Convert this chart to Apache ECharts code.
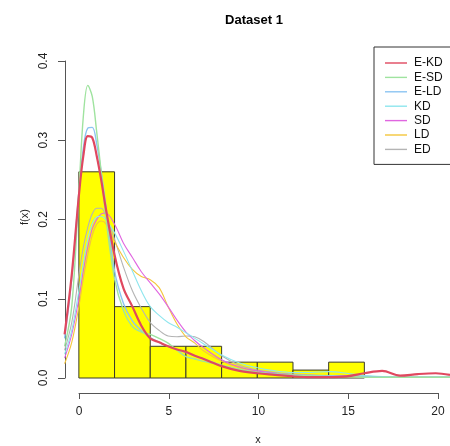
<!DOCTYPE html>
<html>
<head>
<meta charset="utf-8">
<script src="https://cdn.jsdelivr.net/npm/echarts@6/dist/echarts.min.js"></script>
<style>
  html, body { margin: 0; padding: 0; background: #fff; }
  #main { width: 450px; height: 446px; }
</style>
</head>
<body>
<div id="main"></div>
<script>
// histogram: bin edges and densities (n = 50, width 2)
var breaks = [0, 2, 4, 6, 8, 10, 12, 14, 16];
var density = [0.26, 0.09, 0.04, 0.04, 0.02, 0.02, 0.01, 0.02];

var xs = [-0.8, -0.4, 0, 0.25, 0.5, 0.75, 1, 1.25, 1.5, 2, 2.5, 3, 3.5, 4, 4.5, 5, 5.5, 6, 6.5, 7,
  8, 9, 10, 11, 12, 13, 14, 15, 16, 17, 18, 19, 20, 20.8];

var eKD = [0.055, 0.13, 0.23, 0.28, 0.305, 0.303, 0.28, 0.25, 0.215, 0.155, 0.113, 0.09, 0.066, 0.05, 0.045, 0.04, 0.036, 0.033, 0.028, 0.024,
  0.015, 0.009, 0.006, 0.004, 0.002, 0.001, 0.001, 0.002, 0.006, 0.009, 0.003, 0.005, 0.006, 0.004];
var eSD = [0.04, 0.09, 0.235, 0.33, 0.369, 0.355, 0.31, 0.26, 0.205, 0.125, 0.085, 0.065, 0.058, 0.055, 0.05, 0.044, 0.035, 0.027, 0.024, 0.021,
  0.016, 0.011, 0.007, 0.005, 0.004, 0.003, 0.002, 0.002, 0.001, 0.001, 0.001, 0.001, 0.001, 0.001];
var eLD = [0.05, 0.125, 0.235, 0.29, 0.315, 0.316, 0.295, 0.26, 0.22, 0.135, 0.094, 0.072, 0.06, 0.051, 0.045, 0.04, 0.036, 0.032, 0.028, 0.024,
  0.016, 0.01, 0.007, 0.005, 0.003, 0.003, 0.003, 0.002, 0.002, 0.001, 0.001, 0.001, 0.001, 0.001];
var kd = [0.03, 0.06, 0.11, 0.145, 0.175, 0.195, 0.203, 0.204, 0.2, 0.183, 0.16, 0.135, 0.11, 0.09, 0.079, 0.07, 0.064, 0.057, 0.05, 0.043,
  0.029, 0.019, 0.013, 0.009, 0.007, 0.007, 0.008, 0.006, 0.003, 0.002, 0.001, 0.001, 0.001, 0.001];
var sd = [0.025, 0.055, 0.1, 0.135, 0.165, 0.188, 0.2, 0.207, 0.208, 0.194, 0.17, 0.152, 0.134, 0.12, 0.106, 0.09, 0.073, 0.058, 0.047, 0.038,
  0.023, 0.014, 0.009, 0.006, 0.004, 0.003, 0.003, 0.003, 0.002, 0.001, 0.001, 0.001, 0.001, 0.001];
var ld = [0.018, 0.045, 0.09, 0.125, 0.155, 0.18, 0.194, 0.198, 0.195, 0.172, 0.152, 0.137, 0.128, 0.124, 0.114, 0.09, 0.068, 0.052, 0.044, 0.034,
  0.021, 0.013, 0.008, 0.005, 0.004, 0.003, 0.003, 0.002, 0.001, 0.001, 0.001, 0.001, 0.001, 0.001];
var ed = [0.035, 0.07, 0.13, 0.165, 0.19, 0.207, 0.214, 0.214, 0.205, 0.175, 0.14, 0.11, 0.088, 0.07, 0.06, 0.053, 0.052, 0.053, 0.052, 0.046,
  0.028, 0.016, 0.01, 0.007, 0.005, 0.004, 0.003, 0.002, 0.001, 0.001, 0.001, 0.001, 0.001, 0.001];

var names = ['E-KD', 'E-SD', 'E-LD', 'KD', 'SD', 'LD', 'ED'];
var curves = [eKD, eSD, eLD, kd, sd, ld, ed];
var colors = ['#e0485f', '#9fe39f', '#8cc4f2', '#8ee6ee', '#e066e0', '#f4c63c', '#b4b4b4'];
var widths = [2.2, 1.4, 1.4, 1.1, 1.1, 1.1, 1.1];

var chartDom = document.getElementById('main');
var myChart = echarts.init(chartDom);
var font = 'Liberation Sans';

var histData = density.map(function (d, i) { return [breaks[i], breaks[i + 1], d]; });

var series = [{
  type: 'custom',
  xAxisIndex: 0,
  yAxisIndex: 0,
  z: 1,
  silent: true,
  data: histData,
  renderItem: function (params, api) {
    var p0 = api.coord([api.value(0), 0]);
    var p1 = api.coord([api.value(1), api.value(2)]);
    return {
      type: 'rect',
      shape: { x: p0[0], y: p1[1], width: p1[0] - p0[0], height: p0[1] - p1[1] },
      style: { fill: '#ffff00', stroke: '#3a3a2a', lineWidth: 1 }
    };
  }
}];

// draw order: thin curves first, thick E-KD on top
[6, 5, 4, 3, 2, 1, 0].forEach(function (k) {
  series.push({
    name: names[k],
    type: 'line',
    xAxisIndex: 0,
    yAxisIndex: 0,
    z: k === 0 ? 5 : 3,
    smooth: 0.35,
    symbol: 'none',
    silent: true,
    color: colors[k],
    lineStyle: { width: widths[k], color: colors[k] },
    data: xs.map(function (x, i) { return [x, curves[k][i]]; })
  });
});

var option = {
  animation: false,
  backgroundColor: '#fff',
  grid: [
    { left: 64.6, top: 48.1, width: 387.8, height: 342.6 },
    { left: 79, top: 48, width: 359, height: 345 },
    { left: 65, top: 61, width: 300, height: 317 }
  ],
  xAxis: [
    { gridIndex: 0, type: 'value', min: -0.8, max: 20.8, show: false },
    {
      gridIndex: 1, type: 'value', min: 0, max: 20, interval: 5,
      axisLine: { lineStyle: { color: '#555', width: 1 } },
      axisTick: { length: 6, lineStyle: { color: '#555' } },
      axisLabel: { margin: 13, color: '#222', fontSize: 12, fontFamily: font },
      splitLine: { show: false }
    },
    { gridIndex: 2, type: 'value', min: 0, max: 1, show: false }
  ],
  yAxis: [
    { gridIndex: 0, type: 'value', min: -0.016, max: 0.416, show: false },
    { gridIndex: 1, type: 'value', min: 0, max: 1, show: false },
    {
      gridIndex: 2, type: 'value', min: 0, max: 0.4, interval: 0.1,
      axisLine: { show: true, lineStyle: { color: '#555', width: 1 } },
      axisTick: { show: true, length: 7, lineStyle: { color: '#555' } },
      axisLabel: {
        rotate: 90, margin: 15, color: '#222', fontSize: 12, fontFamily: font,
        formatter: function (v) { return v.toFixed(1); }
      },
      splitLine: { show: false }
    }
  ],
  legend: {
    data: names,
    orient: 'vertical',
    left: 374,
    top: 47,
    padding: [10, 40, 9, 11],
    itemWidth: 22,
    itemHeight: 8,
    itemGap: 2.4,
    borderColor: '#333',
    borderWidth: 1,
    borderRadius: 0,
    backgroundColor: '#fff',
    icon: 'path://M0,0 L22,0 L22,1.4 L0,1.4 Z',
    textStyle: { fontSize: 12, fontFamily: font, color: '#111', lineHeight: 12, padding: [0, 0, 0, 2] }
  },
  graphic: [
    { type: 'text', x: 254, y: 20, style: { text: 'Dataset 1', font: 'bold 13px ' + font, fill: '#000', textAlign: 'center', textVerticalAlign: 'middle' } },
    { type: 'text', x: 258, y: 440, style: { text: 'x', font: '11px ' + font, fill: '#222', textAlign: 'center', textVerticalAlign: 'middle' } },
    { type: 'text', x: 25, y: 217, rotation: Math.PI / 2, style: { text: 'f(x)', font: '11px ' + font, fill: '#222', textAlign: 'center', textVerticalAlign: 'middle' } }
  ],
  series: series
};

myChart.setOption(option);
</script>
</body>
</html>
